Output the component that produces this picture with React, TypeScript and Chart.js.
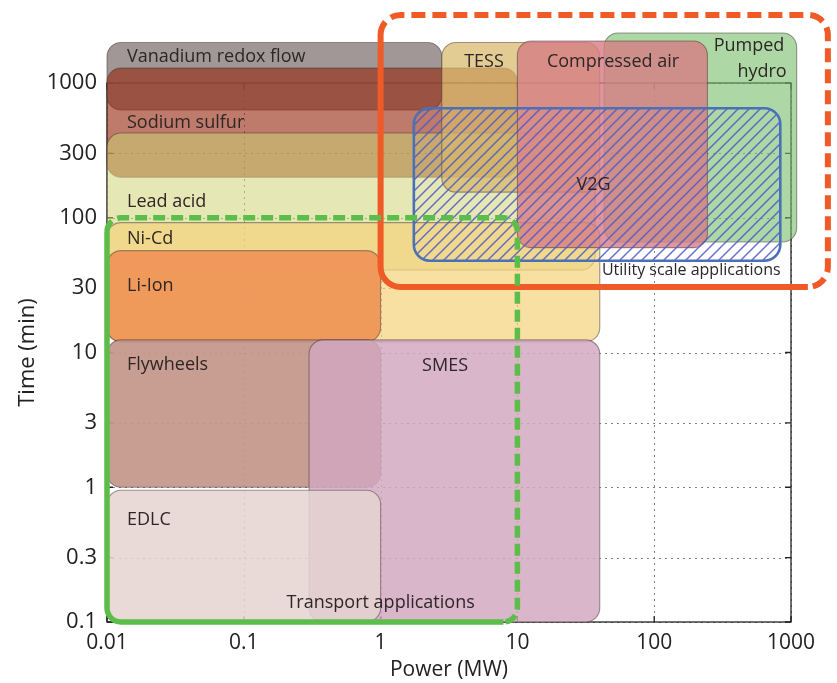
import { useEffect, useRef } from "react";
import { Chart, registerables } from "chart.js";

Chart.register(...registerables);

// ---------- data ----------
const X_TICKS = [0.01, 0.1, 1, 10, 100, 1000];
const Y_TICKS = [0.1, 0.3, 1, 3, 10, 30, 100, 300, 1000];

// storage technologies (drawn in this order)
const TECH_NAMES = [
  "Vanadium redox flow",
  "Sodium sulfur",
  "Lead acid",
  "Ni-Cd",
  "Li-Ion",
  "Flywheels",
  "SMES",
  "EDLC",
  "Pumped hydro",
  "TESS",
  "Compressed air",
];
const POWER_MIN = [0.01, 0.01, 0.01, 0.01, 0.01, 0.01, 0.3, 0.01, 43, 2.8, 10];
const POWER_MAX = [2.8, 10, 37, 40, 1, 1, 40, 1, 1100, 40, 245];
const TIME_MIN = [630, 200, 41, 12, 12, 1, 0.1, 0.1, 66, 155, 60];
const TIME_MAX = [2000, 1290, 425, 92, 57, 12.4, 12.4, 0.95, 2350, 2000, 2050];

// V2G hatched region
const V2G_POWER = [1.75, 835];
const V2G_TIME = [48, 650];

// application envelopes
const UTILITY_POWER = [1, 1860];
const UTILITY_TIME = [30.6, 3200];
const TRANSPORT_POWER = [0.01, 10];
const TRANSPORT_TIME = [0.1, 100];

// labels (anchor in data units)
const LABEL_TEXT = [
  "Vanadium redox flow",
  "Sodium sulfur",
  "Lead acid",
  "Ni-Cd",
  "Li-Ion",
  "Flywheels",
  "EDLC",
  "SMES",
  "TESS",
  "Compressed air",
  "Pumped",
  "hydro",
  "V2G",
  "Utility scale applications",
  "Transport applications",
];
const LABEL_POWER = [0.014, 0.014, 0.014, 0.014, 0.014, 0.014, 0.014, 2.96, 5.7, 50, 493, 614, 36, 41.5, 1.0];
const LABEL_TIME = [1560, 505, 131, 69.5, 31, 8.1, 0.57, 7.9, 1430, 1430, 1880, 1207, 175, 40.3, 0.138];

// ---------- styles ----------
const LABEL_ALIGN: CanvasTextAlign[] = [
  "left", "left", "left", "left", "left", "left", "left",
  "center", "center", "center", "center", "center", "center", "left", "center",
];
const LABEL_SIZE = [18, 18, 18, 18, 18, 18, 18, 18, 18, 18, 18, 18, 18, 16, 18];
const TECH_FILL = [
  "rgba(140,128,128,0.82)",
  "rgba(150,40,15,0.62)",
  "rgba(206,211,113,0.52)",
  "rgba(245,210,122,0.69)",
  "rgba(239,151,90,0.97)",
  "rgba(195,150,138,0.92)",
  "rgba(211,167,193,0.83)",
  "rgba(229,211,209,0.86)",
  "rgba(118,190,105,0.6)",
  "rgba(215,185,105,0.72)",
  "rgba(215,125,132,0.8)",
];
const FONT = '"Open Sans", "DejaVu Sans", sans-serif';

function makeHatch(ctx: CanvasRenderingContext2D): CanvasPattern | string {
  const s = 11;
  const c = document.createElement("canvas");
  c.width = s;
  c.height = s;
  const g = c.getContext("2d");
  if (!g) return "rgba(0,0,0,0)";
  g.strokeStyle = "rgba(78,88,200,0.85)";
  g.lineWidth = 1.5;
  g.beginPath();
  g.moveTo(-2, s + 2);
  g.lineTo(s + 2, -2);
  g.moveTo(-2 - s, s + 2);
  g.lineTo(2, -2);
  g.moveTo(s - 2, s + 2);
  g.lineTo(s + s + 2, -2);
  g.stroke();
  return ctx.createPattern(c, "repeat") || "rgba(0,0,0,0)";
}

function envelope(
  ctx: CanvasRenderingContext2D,
  x0: number, y0: number, x1: number, y1: number,
  r: number, color: string, width: number, dash: number[]
) {
  ctx.save();
  ctx.strokeStyle = color;
  ctx.lineWidth = width;
  ctx.lineCap = "butt";
  ctx.setLineDash(dash);
  ctx.beginPath();
  ctx.moveTo(x0, y0 + r);
  ctx.arcTo(x0, y0, x0 + r, y0, r);
  ctx.lineTo(x1 - r, y0);
  ctx.arcTo(x1, y0, x1, y0 + r, r);
  ctx.lineTo(x1, y1 - r);
  ctx.arcTo(x1, y1, x1 - r, y1, r);
  ctx.stroke();
  ctx.setLineDash([]);
  ctx.beginPath();
  ctx.moveTo(x1 - r, y1);
  ctx.lineTo(x0 + r, y1);
  ctx.arcTo(x0, y1, x0, y1 - r, r);
  ctx.lineTo(x0, y0 + r);
  ctx.stroke();
  ctx.restore();
}

const framePlugin = {
  id: "frame",
  beforeDatasetsDraw(chart: any) {
    const { ctx, chartArea: a, scales } = chart;
    const xs = scales.x;
    const ys = scales.y;
    ctx.save();
    ctx.strokeStyle = "rgba(90,90,90,0.75)";
    ctx.lineWidth = 1;
    ctx.setLineDash([2, 4]);
    X_TICKS.forEach((v) => {
      const p = Math.round(xs.getPixelForValue(v)) + 0.5;
      ctx.beginPath();
      ctx.moveTo(p, a.top);
      ctx.lineTo(p, a.bottom);
      ctx.stroke();
    });
    Y_TICKS.forEach((v) => {
      const p = Math.round(ys.getPixelForValue(v)) + 0.5;
      ctx.beginPath();
      ctx.moveTo(a.left, p);
      ctx.lineTo(a.right, p);
      ctx.stroke();
    });
    ctx.setLineDash([]);
    ctx.strokeStyle = "#222";
    ctx.lineWidth = 1.3;
    ctx.strokeRect(a.left, a.top, a.right - a.left, a.bottom - a.top);
    X_TICKS.forEach((v) => {
      const p = xs.getPixelForValue(v);
      ctx.beginPath();
      ctx.moveTo(p, a.bottom);
      ctx.lineTo(p, a.bottom - 6);
      ctx.moveTo(p, a.top);
      ctx.lineTo(p, a.top + 6);
      ctx.stroke();
    });
    Y_TICKS.forEach((v) => {
      const p = ys.getPixelForValue(v);
      ctx.beginPath();
      ctx.moveTo(a.left, p);
      ctx.lineTo(a.left + 6, p);
      ctx.moveTo(a.right, p);
      ctx.lineTo(a.right - 6, p);
      ctx.stroke();
    });
    ctx.restore();
  },
};

const boxesPlugin = {
  id: "boxes",
  afterDatasetsDraw(chart: any) {
    const { ctx, scales } = chart;
    const px = (v: number) => scales.x.getPixelForValue(v);
    const py = (v: number) => scales.y.getPixelForValue(v);
    ctx.save();
    TECH_NAMES.forEach((_, i) => {
      const x0 = px(POWER_MIN[i]);
      const x1 = px(POWER_MAX[i]);
      const y0 = py(TIME_MAX[i]);
      const y1 = py(TIME_MIN[i]);
      ctx.beginPath();
      ctx.roundRect(x0, y0, x1 - x0, y1 - y0, 14);
      ctx.fillStyle = TECH_FILL[i];
      ctx.fill();
      ctx.lineWidth = 1.1;
      ctx.strokeStyle = "rgba(70,55,55,0.5)";
      ctx.stroke();
    });
    {
      const x0 = px(V2G_POWER[0]);
      const x1 = px(V2G_POWER[1]);
      const y0 = py(V2G_TIME[1]);
      const y1 = py(V2G_TIME[0]);
      ctx.beginPath();
      ctx.roundRect(x0, y0, x1 - x0, y1 - y0, 16);
      ctx.fillStyle = makeHatch(ctx);
      ctx.fill();
      ctx.lineWidth = 2.6;
      ctx.strokeStyle = "#4a70b8";
      ctx.stroke();
    }
    envelope(
      ctx,
      px(UTILITY_POWER[0]), py(UTILITY_TIME[1]), px(UTILITY_POWER[1]), py(UTILITY_TIME[0]),
      20, "#ef5a26", 6, [14, 7]
    );
    envelope(
      ctx,
      px(TRANSPORT_POWER[0]), py(TRANSPORT_TIME[1]), px(TRANSPORT_POWER[1]), py(TRANSPORT_TIME[0]),
      14, "#5cbd4a", 5.5, [12, 6]
    );
    ctx.fillStyle = "#2e2626";
    ctx.textBaseline = "middle";
    LABEL_TEXT.forEach((t, i) => {
      ctx.font = `${LABEL_SIZE[i]}px ${FONT}`;
      ctx.textAlign = LABEL_ALIGN[i];
      ctx.fillText(t, px(LABEL_POWER[i]), py(LABEL_TIME[i]));
    });
    ctx.restore();
  },
};

const fmt = (v: number) => String(v);

export default function App() {
  const ref = useRef<HTMLCanvasElement | null>(null);

  useEffect(() => {
    if (!ref.current) return;
    const chart = new Chart(ref.current, {
      type: "scatter",
      data: { datasets: [] },
      options: {
        animation: false,
        responsive: false,
        devicePixelRatio: 1,
        layout: { padding: { left: 0, top: 83, right: 46, bottom: 0 } },
        plugins: { legend: { display: false }, tooltip: { enabled: false } },
        scales: {
          x: {
            type: "logarithmic",
            min: 0.01,
            max: 1000,
            grid: { display: false, drawTicks: false },
            border: { display: false },
            afterBuildTicks: (s: any) => {
              s.ticks = X_TICKS.map((v) => ({ value: v }));
            },
            afterFit: (s: any) => {
              s.height = 61;
            },
            ticks: {
              autoSkip: false,
              maxRotation: 0,
              padding: 8,
              color: "#222",
              font: { family: FONT, size: 21 },
              callback: (v: any) => fmt(Number(v)),
            },
            title: {
              display: true,
              text: "Power (MW)",
              color: "#222",
              font: { family: FONT, size: 21 },
              padding: { top: 0, bottom: 0 },
            },
          },
          y: {
            type: "logarithmic",
            min: 0.1,
            max: 1000,
            grid: { display: false, drawTicks: false },
            border: { display: false },
            afterBuildTicks: (s: any) => {
              s.ticks = Y_TICKS.map((v) => ({ value: v }));
            },
            afterFit: (s: any) => {
              s.width = 107;
            },
            ticks: {
              autoSkip: false,
              padding: 10,
              color: "#222",
              font: { family: FONT, size: 22 },
              callback: (v: any) => fmt(Number(v)),
            },
            title: {
              display: true,
              text: "Time (min)",
              color: "#222",
              font: { family: FONT, size: 22 },
              padding: { top: 15, bottom: 0 },
            },
          },
        },
      },
      plugins: [framePlugin, boxesPlugin],
    });
    return () => chart.destroy();
  }, []);

  return (
    <div style={{ position: "absolute", left: 0, top: 0, width: 837, height: 683, background: "#fff" }}>
      <canvas ref={ref} width={837} height={683} style={{ display: "block" }} />
    </div>
  );
}
